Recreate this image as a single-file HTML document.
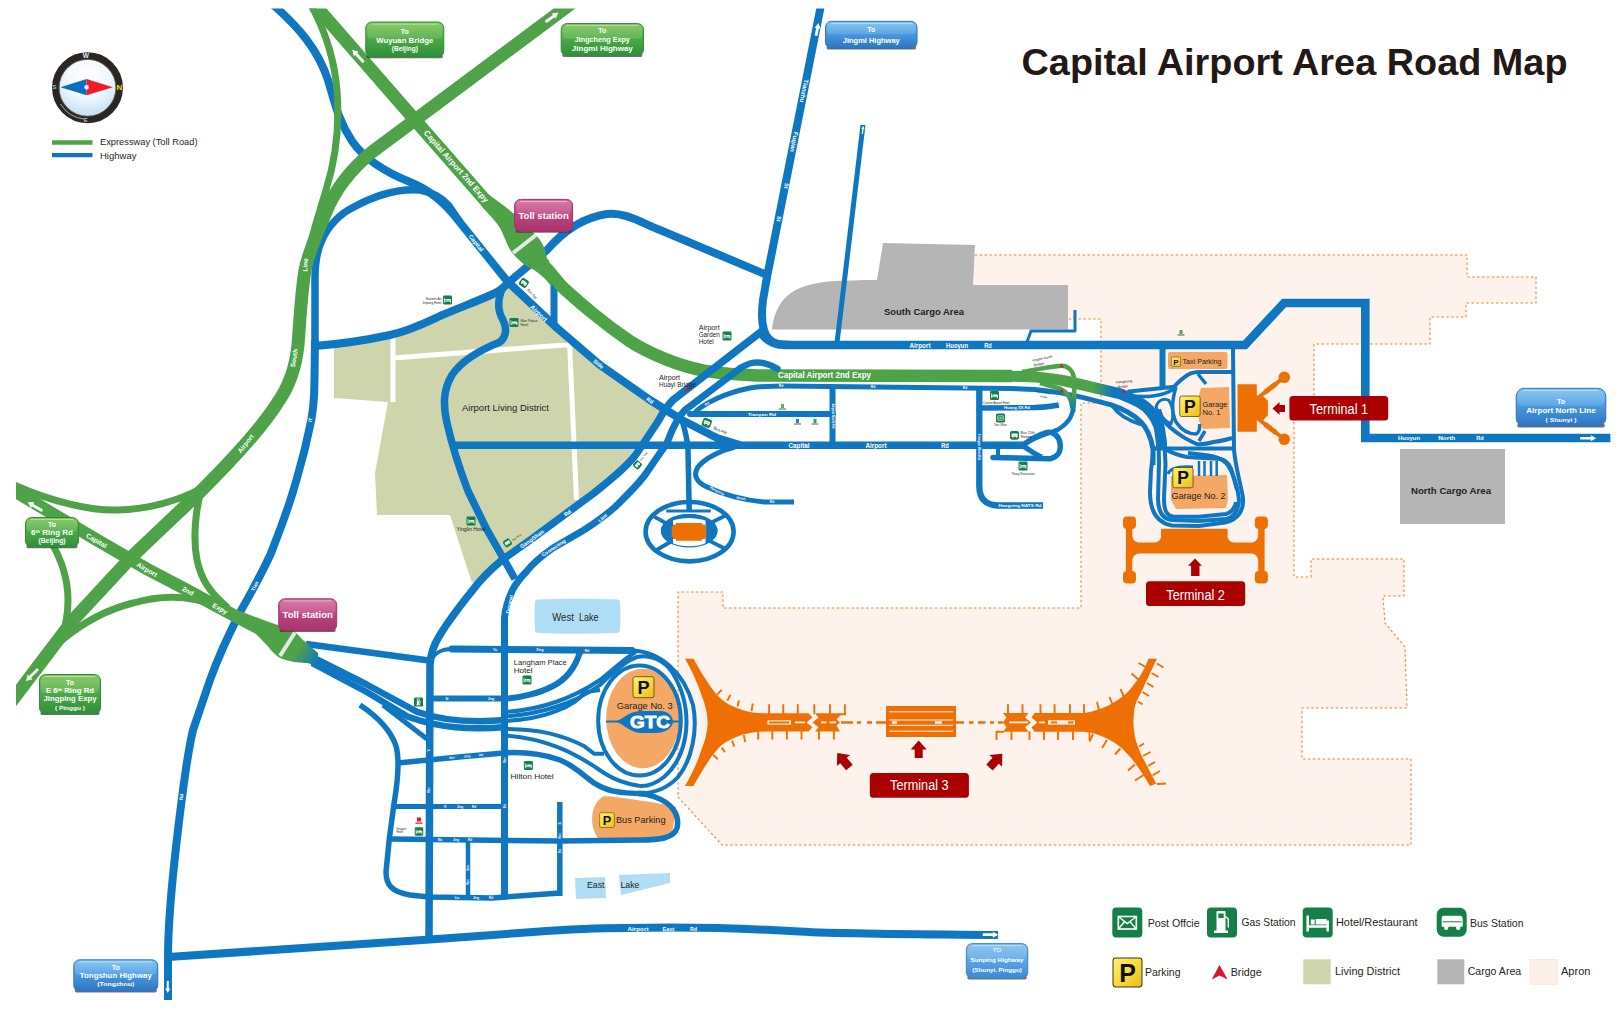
<!DOCTYPE html>
<html lang="en"><head><meta charset="utf-8"><title>Capital Airport Area Road Map</title>
<style>
html,body{margin:0;padding:0;background:#fff;}
body{width:1621px;height:1020px;overflow:hidden;font-family:"Liberation Sans",sans-serif;}
svg{display:block;}
svg text{font-family:"Liberation Sans",sans-serif;}
</style></head><body>
<svg width="1621" height="1020" viewBox="0 0 1621 1020">
<defs>
<linearGradient id="gbE" gradientUnits="userSpaceOnUse" x1="1093" y1="0" x2="1113" y2="0"><stop offset="0" stop-color="#4ea248"/><stop offset="1" stop-color="#0f76c1"/></linearGradient>
<linearGradient id="gbE2" gradientUnits="userSpaceOnUse" x1="0" y1="394" x2="0" y2="410"><stop offset="0" stop-color="#4ea248"/><stop offset="1" stop-color="#0f76c1"/></linearGradient>
<linearGradient id="gbW" gradientUnits="userSpaceOnUse" x1="298" y1="650" x2="320" y2="662"><stop offset="0" stop-color="#4ea248"/><stop offset="1" stop-color="#0f76c1"/></linearGradient>
<linearGradient id="sgG" x1="0" y1="0" x2="0" y2="1"><stop offset="0" stop-color="#7cc552"/><stop offset="0.5" stop-color="#4aa844"/><stop offset="1" stop-color="#2f8f3a"/></linearGradient>
<linearGradient id="sgB" x1="0" y1="0" x2="0" y2="1"><stop offset="0" stop-color="#78c2f0"/><stop offset="0.45" stop-color="#4a9ae0"/><stop offset="1" stop-color="#2f74c0"/></linearGradient>
<linearGradient id="sgB2" x1="0" y1="0" x2="0" y2="1"><stop offset="0" stop-color="#7fc0ee"/><stop offset="0.5" stop-color="#5aa4e2"/><stop offset="1" stop-color="#3d88d6"/></linearGradient>
<linearGradient id="sgP" x1="0" y1="0" x2="0" y2="1"><stop offset="0" stop-color="#d26c9d"/><stop offset="0.45" stop-color="#bc4580"/><stop offset="1" stop-color="#a8346c"/></linearGradient>
<linearGradient id="pk" x1="0" y1="0" x2="1" y2="1"><stop offset="0" stop-color="#fdf07a"/><stop offset="0.5" stop-color="#f7dc3a"/><stop offset="1" stop-color="#f0b81e"/></linearGradient>
<radialGradient id="cmp" cx="0.5" cy="0.32" r="0.62"><stop offset="0" stop-color="#ffffff"/><stop offset="0.55" stop-color="#f1f8fd"/><stop offset="1" stop-color="#c4e0f4"/></radialGradient>
</defs>
<clipPath id="mapclip"><rect x="16" y="8.5" width="1600" height="991.5"/></clipPath>
<rect width="1621" height="1020" fill="#fff"/>
<g clip-path="url(#mapclip)">
<g id="base"><path d="M965,255 L1467,255 L1467,277 L1536,277 L1536,303 L1466,303 L1466,317 L1430,317 L1430,344 L1314,344 L1314,408 L1294,408 L1294,577 L1311,577 L1311,559 L1404,559 L1404,596 L1383,596 L1385,623 L1405,647 L1407,708 L1302,708 L1302,759 L1411,759 L1411,845 L722,845 L678,797 L678,592 L723,592 L723,608 L1081,608 L1081,403 L1101,403 L1101,319 L965,319 L965,255 Z" fill="#fdf3ec" stroke="#ef8128" stroke-width="1.05" stroke-dasharray="2.4 2.5"/>
<path d="M334,343 L334,398 L388,402 L375,473 L377,515 L450,515 L472,583 L502,560 L533,538 L594,493 L628,466 L645,446 L657,423 L665,410 L600,365 L557,328 L508,284 L493,294 L466,305 L440,316 L390,335 Z" fill="#ced4ab"/>
<path d="M393,336 L393,402 M393,358 L571,344.5 M569.5,342 L576.5,500" stroke="#fff" stroke-width="5" fill="none"/>
<path d="M537,599.5 Q578,598 618,599.5 Q620,600 620,602 Q621,617 620,630 Q620,632.5 618,632.8 Q578,634.5 537,632.8 Q535,632.5 535,630 Q534,616 535,602 Q535,600 537,599.5 Z" fill="#b0ddf6"/>
<path d="M575,878 L605,877 L606,898 L576,899 Z" fill="#b0ddf6"/>
<path d="M619,875 L670,873 L670,883 L621,895 Z" fill="#b0ddf6"/>
<path d="M883,243 L975,245 L973,285 L1068,285 L1068,329.5 L772,329.5 C773,318 777,307 784,299 C793,289 808,283.5 828,281.5 C845,280.5 860,280 877,280 Z" fill="#b5b5b5"/>
<rect x="1400" y="449" width="105" height="75" fill="#b5b5b5"/>
<rect x="1168" y="352" width="59.5" height="17" rx="2" fill="#f5a866"/>
<path d="M1201,388 L1229,387 L1230,428 L1203,429 L1199,421 L1199,395 Z" fill="#f5a866"/>
<path d="M1171,476 L1227,475 L1228,500 L1226,508 L1176,509 L1171,500 Z" fill="#f5a866"/>
<ellipse cx="642.8" cy="718.5" rx="36.7" ry="49.7" fill="#f5a866"/>
<path d="M604,796 C625,798 655,802 676,807 L672,835 C650,838 620,839 599,839 C590,830 588,805 604,796 Z" fill="#f5a866"/></g>
<g id="blue1"><path d="M270,2 C300,28 318,50 328,80 C334,100 338,120 352,141 C365,160 385,172 410,182 C430,190 445,203 458,220 L507,281 L557,328 L600,365 L650,400 L682,420 L717,438 L740,445" stroke="#0f76c1" stroke-width="8" fill="none" stroke-linecap="butt" stroke-linejoin="round" />
<path d="M315,346 L315,278 C315,262 317,250 322,240 C328,226 340,214 352,208 C370,198 395,188 420,190 C432,192 441,197 449,206 L460,222" stroke="#0f76c1" stroke-width="7.5" fill="none" stroke-linecap="butt" stroke-linejoin="round" />
<path d="M315,340 L314.5,380 C314.5,400 313,415 309,430.5 C306,445 303,457 299.5,469 C296,482 292,496 287,510 C282,525 276,540 270.7,554 C265,566 260,576 254,587 C250,595 245,603 240.5,611.6 C232,628 220,652 210,680 L193,730 C186,760 182,797 178,830 C172,880 168,920 168,957 L168,1000" stroke="#0f76c1" stroke-width="8" fill="none" stroke-linecap="butt" stroke-linejoin="round" />
<path d="M315,346 C340,344 367,340 390,335 C410,330.5 425,323 440,316 C460,307.5 480,300 493,294 C500,291 504,287 508,283 L547,250 C560,235 580,218 607,214 C625,212 640,222 660,230 L767,275" stroke="#0f76c1" stroke-width="8" fill="none" stroke-linecap="butt" stroke-linejoin="round" />
<path d="M821,5 L767,277 L763,300 C761.5,312 761.5,322 764,330 C766,337 771,342 778,344.5 L792,345" stroke="#0f76c1" stroke-width="8" fill="none" stroke-linecap="butt" stroke-linejoin="round" />
<path d="M762,334 C768,342 775,345 790,345 L1245,345 L1284,303 L1365.3,303 L1365.3,438 L1610.4,438" stroke="#0f76c1" stroke-width="8.6" fill="none" stroke-linecap="butt" stroke-linejoin="miter" />
<path d="M863,125 L837,343" stroke="#0f76c1" stroke-width="5" fill="none" stroke-linecap="butt" stroke-linejoin="round" />
<path d="M554,283 L554,326" stroke="#0f76c1" stroke-width="7" fill="none" stroke-linecap="butt" stroke-linejoin="round" />
<path d="M503,287 C497,300 497,310 503,320 C508,330 505,338 500,342 C480,350 462,360 452,375 C443,390 443,405 447,423 C452,445 458,465 468,491 L486,528 L502,556 L515,579" stroke="#0f76c1" stroke-width="7.5" fill="none" stroke-linecap="butt" stroke-linejoin="round" />
<path d="M451,445.2 L1023,445.2" stroke="#0f76c1" stroke-width="7.6" fill="none" stroke-linecap="butt" stroke-linejoin="round" />
<path d="M695,412 C705,403 725,393 750,388 C765,386 775,386 783,386 L1010,388.6 L1034,389.4 C1045,390.5 1052,391.5 1059.8,392.6 L1082.3,397.4 L1110.5,404.7 C1122,408.5 1133,414 1141,422 C1147,428 1151,438 1153,449 L1153,465" stroke="#0f76c1" stroke-width="5" fill="none" stroke-linecap="butt" stroke-linejoin="round" />
<path d="M1112,405.5 C1117,413 1128,420.5 1141,424.5" stroke="#0f76c1" stroke-width="3.5" fill="none" stroke-linecap="butt" stroke-linejoin="round" />
<path d="M690,414 L833,414" stroke="#0f76c1" stroke-width="6" fill="none" stroke-linecap="round" stroke-linejoin="round" />
<path d="M832.5,387 L832.5,445" stroke="#0f76c1" stroke-width="6" fill="none" stroke-linecap="butt" stroke-linejoin="round" />
<path d="M682,420 C685,430 687.5,440 688,450 L689.2,510" stroke="#0f76c1" stroke-width="5.5" fill="none" stroke-linecap="butt" stroke-linejoin="round" />
<path d="M735,447 C722,450 705,458 698,467 C692,476 698,483 707,487 C722,494 740,500 765,502 L794,502" stroke="#0f76c1" stroke-width="5" fill="none" stroke-linecap="butt" stroke-linejoin="round" />
<path d="M979.3,388 L979.3,486 C979.3,499 986,505.5 998,505.5 L1043,505.5" stroke="#0f76c1" stroke-width="6.3" fill="none" stroke-linecap="butt" stroke-linejoin="round" />
<path d="M979.3,408 L1035,407.5 C1046,407 1053,406.3 1058.8,405" stroke="#0f76c1" stroke-width="5.5" fill="none" stroke-linecap="butt" stroke-linejoin="round" />
<path d="M1023,445 C1030,440 1038,435 1047,432.5 C1053,431 1059,436 1060,443 C1061,450 1060,456 1050,458.8 L993,457.5" stroke="#0f76c1" stroke-width="5.5" fill="none" stroke-linecap="round" stroke-linejoin="round" />
<path d="M1023,446 C1030,450 1035,455 1042,457" stroke="#0f76c1" stroke-width="5" fill="none" stroke-linecap="butt" stroke-linejoin="round" />
<path d="M998,445 L998,457" stroke="#0f76c1" stroke-width="4" fill="none" stroke-linecap="butt" stroke-linejoin="round" />
<path d="M1075,310 L1075,331 L1031,331 L1027,342" stroke="#0f76c1" stroke-width="3" fill="none" stroke-linecap="butt" stroke-linejoin="round" /></g>
<g id="green"><path d="M592,-12 L415,120 L372,152 C350,170 335,190 326,212 C316,235 308,255 305,270 C301,295 300,320 298,345 C296,365 290,385 278,402 C262,428 230,462 200,492 L132,556.5 L74,619 L33,673 L5,710" stroke="#4ea248" stroke-width="13" fill="none" stroke-linecap="butt" stroke-linejoin="round" />
<path d="M311,5 C322,25 334,55 337,90 C340,130 334,165 326,190 C320,210 312,235 307,258" stroke="#4ea248" stroke-width="7" fill="none" stroke-linecap="butt" stroke-linejoin="round" />
<path d="M300,-12 L318,8.6 L415,120 L492,208 L524,244 L545,266" stroke="#4ea248" stroke-width="13" fill="none" stroke-linecap="butt" stroke-linejoin="round" />
<path d="M540,262 L548,270 L561,285.6 C572,296 582,304.5 592.6,313.3 C605,323.5 617,332.5 629.6,341 C641,348.5 654,354.5 666.7,359.6 C679,364.5 691,368 703.7,370.7 C716,373 728,374 740.7,374.6 L757,375.5 L1012,376" stroke="#4ea248" stroke-width="12.5" fill="none" stroke-linecap="butt" stroke-linejoin="round" />
<path d="M488,194 C497,201 505,206 513.3,213.3 L535.8,235 C542,241 545.5,249 546.5,257 C548,263 552,268 557,273 L560,277 L551,286 L547,281 C543,276.5 538,272.5 533.3,269.5 C526,266.5 519,261 512.5,253.3 C508,247 506.5,242 504,236.7 C501,228 495,219 482,207 Z" fill="#4ea248"/>
<path d="M513,253 L536,235" stroke="#e1ebdf" stroke-width="4" fill="none" stroke-linecap="butt" stroke-linejoin="round" />
<path d="M5,486 L16,492 L97,540 L147,569 L188,590.5 L220,608 L262,630 L290,645" stroke="#4ea248" stroke-width="12.5" fill="none" stroke-linecap="butt" stroke-linejoin="round" />
<path d="M14,485 C50,501 90,511 117,510 C150,509 180,500 202,488" stroke="#4ea248" stroke-width="7" fill="none" stroke-linecap="butt" stroke-linejoin="round" />
<path d="M202,488 C195,510 193,540 197,560 C201,578 208,591 228,608" stroke="#4ea248" stroke-width="7" fill="none" stroke-linecap="butt" stroke-linejoin="round" />
<path d="M218,606 C190,595 160,595 133,603 C105,610 80,625 62,640" stroke="#4ea248" stroke-width="7" fill="none" stroke-linecap="butt" stroke-linejoin="round" />
<path d="M50,540 C62,560 68,580 68,600 C68,615 66,625 62,638" stroke="#4ea248" stroke-width="7" fill="none" stroke-linecap="butt" stroke-linejoin="round" /></g>
<g id="blue2"><path d="M762,331 L673,400 C665,408 660,418 657,423 L637,453 C628,466 610,480 594,493 L533,538 L502,560 C490,570 480,580 472,591 C462,603 452,617 447,624 C440,635 431,646 430,665 L429,940" stroke="#0f76c1" stroke-width="7.5" fill="none" stroke-linecap="butt" stroke-linejoin="round" />
<path d="M742,367 L685,410 C675,420 670,435 667,443 L647,472 C640,483 625,497 615,507 C605,516 595,523 584,530 L553,548 C543,555 533,563 527,571 C520,578 515,585 512,591 C508,600 505,610 504.5,618 L504.5,896" stroke="#0f76c1" stroke-width="7" fill="none" stroke-linecap="butt" stroke-linejoin="round" />
<path d="M734,373 L742,367 C748,363.5 752,362.3 757.5,362.3 C765,362.5 771,365 777.5,368.8" stroke="#0f76c1" stroke-width="6.3" fill="none" stroke-linecap="round" stroke-linejoin="round" />
<ellipse cx="689.6" cy="531.7" rx="44" ry="29.7" fill="none" stroke="#0f76c1" stroke-width="4.6"/>
<path d="M654.2,516.7 L669.5,525.2 M725,515.8 L709.5,523.5 M656.7,550 L671,541.5 M724.2,548.3 L709,540.6" stroke="#0f76c1" stroke-width="3.8" fill="none" stroke-linecap="butt" stroke-linejoin="round" />
<clipPath id="rbc"><ellipse cx="689.2" cy="530.8" rx="28.3" ry="16.7"/></clipPath>
<ellipse cx="689.2" cy="530.8" rx="27.7" ry="16.1" fill="#fff" stroke="#0f76c1" stroke-width="1.2"/>
<g clip-path="url(#rbc)"><rect x="655" y="510" width="18" height="42" fill="#0f76c1"/><rect x="705.5" y="510" width="18" height="42" fill="#0f76c1"/><path d="M660,523 Q689,508 718,523" stroke="#0f76c1" stroke-width="5" fill="none"/></g>
<path d="M666.3,511 L710.8,511" stroke="#0f76c1" stroke-width="3" fill="none" stroke-linecap="butt" stroke-linejoin="round" />
<path d="M676,523 L702,523 L702,524.5 L705,524.5 L705,526.5 L706.3,526.5 L706.3,537 L705,537 L705,539 L702,539 L702,540.8 L676,540.8 L676,539 L673,539 L673,537 L671.7,537 L671.7,526.5 L673,526.5 L673,524.5 L676,524.5 Z" fill="#ee7004"/>
<path d="M306,644 L429,660.5" stroke="#0f76c1" stroke-width="6.5" fill="none" stroke-linecap="butt" stroke-linejoin="round" />
<path d="M316,659 L366.7,684.5 L416.7,711.7 C440,720 470,723 506,720" stroke="#0f76c1" stroke-width="6.5" fill="none" stroke-linecap="butt" stroke-linejoin="round" />
<path d="M312,663 L366.7,692 L408,716.7 C440,728 470,730 506,727" stroke="#0f76c1" stroke-width="6.5" fill="none" stroke-linecap="butt" stroke-linejoin="round" />
<path d="M383,705 L427,739" stroke="#0f76c1" stroke-width="5" fill="none" stroke-linecap="butt" stroke-linejoin="round" />
<path d="M360,705 C375,715 390,728 396,746 C400,760 398,780 394,804 C390,830 387,860 386,872 C386,885 392,892 410,895 L429,897 L492,898 L560,893" stroke="#0f76c1" stroke-width="5.5" fill="none" stroke-linecap="butt" stroke-linejoin="round" />
<path d="M431,662 C433,653 442,649 452,649 L633,650.5 C660,652 684,672 693,705 C698,730 692,760 678,777 C668,788 655,793 640,793.5" stroke="#0f76c1" stroke-width="4" fill="none" stroke-linecap="butt" stroke-linejoin="round" />
<path d="M452,649 L632,650.5" stroke="#0f76c1" stroke-width="7" fill="none" stroke-linecap="round" stroke-linejoin="round" />
<path d="M580,652 C575,668 565,680 553,686 C540,693 520,698 506,698.6 L431,698.6" stroke="#0f76c1" stroke-width="6" fill="none" stroke-linecap="butt" stroke-linejoin="round" />
<path d="M392,806.5 L504.7,806.5" stroke="#0f76c1" stroke-width="5" fill="none" stroke-linecap="butt" stroke-linejoin="round" />
<path d="M391,839 L560,841 L640,840 C660,840 674,838 677,828 C680,815 672,803 655,797 C650,795 645,793.5 638,793.5" stroke="#0f76c1" stroke-width="5.5" fill="none" stroke-linecap="butt" stroke-linejoin="round" />
<path d="M559.8,802 L559.8,896" stroke="#0f76c1" stroke-width="5.5" fill="none" stroke-linecap="butt" stroke-linejoin="round" />
<path d="M468,840 L468,898" stroke="#0f76c1" stroke-width="4.5" fill="none" stroke-linecap="butt" stroke-linejoin="round" />
<path d="M504,712 C540,710 570,700 600,680 C615,668 625,658 636,652" stroke="#0f76c1" stroke-width="4" fill="none" stroke-linecap="butt" stroke-linejoin="round" />
<path d="M504,716.5 C540,714.5 575,703 600,685 C612,673 625,661 637,657 C650,654 664,660 672,672 C682,688 686.5,705 686.5,722 C686.5,745 678,765 664,777 C655,784 648,786.5 640,786" stroke="#0f76c1" stroke-width="4" fill="none" stroke-linecap="butt" stroke-linejoin="round" />
<path d="M504,721 C545,719.5 575,706 585,692 L600,690" stroke="#0f76c1" stroke-width="4" fill="none" stroke-linecap="butt" stroke-linejoin="round" />
<path d="M504,729 C540,729 562,735 584,746 L594,753.7 L604,753.7" stroke="#0f76c1" stroke-width="4" fill="none" stroke-linecap="butt" stroke-linejoin="round" />
<path d="M504,735.5 C543,738 573,751 604,773 C615,780 625,784 640,786" stroke="#0f76c1" stroke-width="4" fill="none" stroke-linecap="butt" stroke-linejoin="round" />
<path d="M398,763 L461.6,756.7 L506.5,752.7 C525,752 543,754 560,760 C575,766 585,777 594,783 C605,790 615,793.5 645,793.5" stroke="#0f76c1" stroke-width="5.5" fill="none" stroke-linecap="butt" stroke-linejoin="round" />
<ellipse cx="639.5" cy="720.5" rx="41.3" ry="55" fill="none" stroke="#0f76c1" stroke-width="4"/>
<path d="M606,721.5 L680,721.5" stroke="#0f76c1" stroke-width="2" fill="none" stroke-linecap="butt" stroke-linejoin="round" />
<path d="M614,721.5 C622,721 626,712 640,711 L660,711 C670,711 673,718 673,721.5 C673,726 668,733 655,733 L640,733 C628,732 622,722 614,721.5 Z" fill="#0f76c1"/>
<path d="M168,957 L430,939.5 L533,932 C560,930 600,928 625,928 C680,927 740,928 790,931 C830,934 900,934 998,935" stroke="#0f76c1" stroke-width="8" fill="none" stroke-linecap="butt" stroke-linejoin="round" />
<path d="M1005,376 L1030,376.8 C1040,377 1050,378.5 1060,380 C1070,382 1083,385 1095,387.8 L1119.6,393.6 C1127,397 1133,399 1139.4,402.5 C1144,405 1148,408 1151.2,412.4 C1155,417 1157,421 1159,426 C1160,432 1161,438 1161.5,444 L1161.5,450" stroke="url(#gbE)" stroke-width="11" fill="none" stroke-linecap="butt" stroke-linejoin="round" />
<path d="M1162.5,348 L1162.5,388" stroke="#0f76c1" stroke-width="6" fill="none" stroke-linecap="butt" stroke-linejoin="round" />
<path d="M1233,348 L1234,450 C1236,470 1241,485 1243,498 C1244,510 1238,520 1225,522.5 L1199,526 L1172,525.5 C1158,523 1150,512 1150,492 L1151,470 L1153,455" stroke="#0f76c1" stroke-width="4" fill="none" stroke-linecap="butt" stroke-linejoin="round" />
<path d="M1158.5,440 L1159,464 L1158,498 C1158,510 1162,519 1172,520 L1199,521 L1226,519 C1235,517 1239,508 1239,500 C1238,488 1233,472 1227,464 C1222,458 1215,456 1205,455 L1188,453" stroke="#0f76c1" stroke-width="4" fill="none" stroke-linecap="butt" stroke-linejoin="round" />
<path d="M1164,436 L1165.5,464 L1164,498 C1164,510 1166,516 1174,516.7 L1199,516.7 L1226,514 C1231,513 1235,508 1236,502" stroke="#0f76c1" stroke-width="4" fill="none" stroke-linecap="butt" stroke-linejoin="round" />
<path d="M1154,448.5 L1234,448.5" stroke="#0f76c1" stroke-width="4" fill="none" stroke-linecap="butt" stroke-linejoin="round" />
<path d="M1165,449 C1172,453 1178,455.5 1187,457 L1221,459 C1228,461 1231,466 1233,475 L1237,490" stroke="#0f76c1" stroke-width="4" fill="none" stroke-linecap="butt" stroke-linejoin="round" />
<path d="M1199,461 L1199,476 M1204.5,461 L1204.5,476 M1211,461 L1211,476 M1216.7,461 L1216.7,476" stroke="#0f76c1" stroke-width="2.5" fill="none" stroke-linecap="butt" stroke-linejoin="round" />
<path d="M1168,474 C1170,468 1178,466 1193,467" stroke="#0f76c1" stroke-width="3" fill="none" stroke-linecap="butt" stroke-linejoin="round" />
<path d="M1127.5,391.7 C1140,390 1160,388.5 1174,386.7 C1178,383 1180,380 1183.8,377.8 C1188,374 1193,372 1198.6,372 L1232,372" stroke="#0f76c1" stroke-width="4" fill="none" stroke-linecap="butt" stroke-linejoin="round" />
<path d="M1232,438 C1226,440 1220,441 1213.4,442 C1207,444 1202,444.5 1196.6,444 C1190,441 1184,438 1178.8,434 C1173,430 1168,426 1165,422 C1162,418 1160,414 1159,409.4" stroke="#0f76c1" stroke-width="4" fill="none" stroke-linecap="butt" stroke-linejoin="round" />
<path d="M1127.5,394.6 C1140,398 1158,397 1169,391.7 C1172,390 1174,389 1176,387.5" stroke="#0f76c1" stroke-width="3.5" fill="none" stroke-linecap="butt" stroke-linejoin="round" />
<path d="M1176,387 C1172,400 1171,412 1176,422 C1182,431 1190,434 1196,434 C1200,432 1200,428 1199.6,424" stroke="#0f76c1" stroke-width="3.5" fill="none" stroke-linecap="butt" stroke-linejoin="round" />
<path d="M1156,407 C1158,400 1164,397.5 1169,400.5 C1173,407 1174,416 1171,424 C1165,421 1159,415 1156,407 Z" stroke="#0f76c1" stroke-width="3" fill="none" stroke-linecap="butt" stroke-linejoin="round" />
<path d="M1198,374 L1206,384 M1205,431 L1199,441" stroke="#0f76c1" stroke-width="3.5" fill="none" stroke-linecap="butt" stroke-linejoin="round" /></g>
<g id="green2"><path d="M238,610.5 C245,613 250,615 257,617.5 C265,620.5 272,623 278,625 C286,627.5 292,629.5 295,631.7 L303,640 L318,653 L318,668 C313,665 310,663.5 306.7,663 C300,662.5 297,662.5 293,661.7 C287,660.5 282,659.5 278,656.7 C273,653 270,649 266.7,645 C262,640 258,636 255,633 C248,628.5 240,625 230,620.3 Z" fill="url(#gbW)"/>
<path d="M280,655.8 L295,632.5" stroke="#e1ebdf" stroke-width="4" fill="none" stroke-linecap="butt" stroke-linejoin="round" />
<path d="M1022,372 C1036,369.5 1046,367.3 1061.4,365.7 C1067,365.5 1074.3,370 1074.3,382 L1074,400 C1074,414 1070,422 1058,429.6 C1050,433 1038,436 1027,442.5" stroke="url(#gbE2)" stroke-width="4.5" fill="none" stroke-linecap="butt" stroke-linejoin="round" />
<path d="M1040,383 C1048,385 1056,387.5 1059.8,388.6 C1063,390 1065,392 1066.3,393.4 C1069,396 1070.5,399 1071,401.4 L1073.5,412" stroke="url(#gbE2)" stroke-width="4.5" fill="none" stroke-linecap="butt" stroke-linejoin="round" /></g>
<g id="terminals"><g id="t3w"><path d="M685,658.8 L693.5,658.8 C699,669 705,679 710.8,687 C714,692 718,696 721.8,699.6 C727,704 732,706 737.5,708.2 C744,711 751,712.5 757.8,713 L767.3,713.3 L808.5,713.3 L812.5,717.5 L806.5,722.4 L812.5,727.3 L808.5,731.5 L767.3,731.5 L757.8,731.8 C751,732.5 744,734 737.5,736.5 C732,739 727,741 721.8,745 C718,748.5 714,753 710.8,757.6 C705,766 699,776 693.5,785.9 L685,785.9 C692,774 698,761 701.4,749.8 C705,741 707.6,731 707.6,722.4 C707.6,713 705,704 701.4,695 C698,684 692,671 685,658.8 Z" fill="#ee7004"/>
<path d="M815,713.3 L846,713.3 L846,715.2 L840.5,715.2 L836.5,719.5 L840,722.4 L836.5,725.5 L840,731.5 L815,731.5 L818.5,727.3 L812.5,722.4 L818.5,717.5 Z" fill="#ee7004"/>
<rect x="767.5" y="720.3" width="23.5" height="4.3" fill="#fdf3ec"/><rect x="768.8" y="721.4" width="20.5" height="2.1" fill="#ee7004"/>
<path d="M795,722.4 L805,722.4 M821,722.4 L826.5,722.4 M829.5,722.4 L836,722.4" stroke="#fdf3ec" stroke-width="1.8"/>
<path d="M769.1,704.3 L769.1,714 M783.3,704.3 L783.3,714 M797.8,704.3 L797.8,714 M814.3,704.3 L814.3,714 M830,704.3 L830,714 M844.9,704.3 L844.9,714 M758.2,731 L758.2,739.6 M772.3,731 L772.3,739.6 M786.9,731 L786.9,739.6 M801.5,731 L801.5,739.6 M819,731 L819,739.6 M833.9,731 L833.9,739.6 M717,694.5 L721.8,689.9 M727.3,700.8 L730.4,694.9 M737.5,706.5 L739,700.4 M751.6,711 L752.7,703.5 M713.1,754.8 L717.8,759.2 M721.8,747.6 L724.9,752.2 M732,740.6 L734.3,746.7 M743.7,735 L745.3,742" stroke="#ee7004" stroke-width="1.9" fill="none"/></g>
<g id="t3e"><path d="M1148.4,658.8 L1157,658.8 C1152,669 1147,680 1143.7,687 C1140,695 1137,700 1135,705.9 C1134,711 1133.5,717 1133.5,722.4 C1133.5,728 1134.5,735 1135.9,740.4 C1138,748 1141,755 1145.3,762.4 C1149,770 1153,777 1156.3,783.5 L1150,785.9 C1146,780 1143,774 1139,768.6 C1135,763 1131,757 1126.5,752.9 C1121,747 1114,742 1107.6,738.8 C1100,735 1092,732.5 1084,731.8 L1034.5,731.8 L1031.5,727.3 L1037.5,722.4 L1031.5,717.5 L1034.5,713 L1084,713 C1092,712 1100,709 1107.6,705.9 C1114,703 1121,698 1126.5,693.3 C1131,689 1135,683 1139,677.6 C1143,672 1146,665 1148.4,658.8 Z" fill="#ee7004"/>
<path d="M1028.5,713 L1003,713 L1006.5,717.5 L1003,722.4 L1006.5,727.3 L1003,731.8 L1028.5,731.8 L1025,727.3 L1031,722.4 L1025,717.5 Z" fill="#ee7004"/>
<path d="M996,731.8 L1004,731.8" stroke="#ee7004" stroke-width="1.9"/>
<rect x="1048" y="720.3" width="27" height="4.3" fill="#fdf3ec"/><rect x="1051" y="721.4" width="6" height="2.1" fill="#ee7004"/><rect x="1068" y="721.4" width="5.5" height="2.1" fill="#ee7004"/>
<path d="M1009,722.4 L1028,722.4 M1039,722.4 L1045,722.4" stroke="#fdf3ec" stroke-width="1.8"/>
<path d="M1008,704.3 L1008,713.5 M1022.5,704.3 L1022.5,713.5 M1040.5,704.3 L1040.5,713.5 M1054.6,704.3 L1054.6,713.5 M1070,704.3 L1070,713.5 M1084,704.3 L1084,713.5 M996.5,731.3 L996.5,740 M1011.5,731.3 L1011.5,740 M1029.5,731.3 L1029.5,740 M1044,731.3 L1044,740 M1058,731.3 L1058,740 M1073,731.3 L1073,740 M1089.5,731.3 L1089.5,740 M1099,710 L1097,702 M1112.5,704.5 L1109.5,697 M1124,697 L1120.5,689 M1139,680 L1131.5,673.5 M1147.5,668 L1138.5,663 M1157,663.5 L1163.5,667.5 M1151.5,673 L1158.5,677 M1147,683 L1153.5,687 M1142.5,692 L1149,696 M1138,701.5 L1142.5,704.5 M1093,734 L1089.5,741.5 M1107,740 L1102,748 M1120.5,748.5 L1115,754.5 M1135,764.5 L1128,770.5 M1143.5,775 L1135,780.5 M1139,746.5 L1144,743.5 M1143,756 L1150.5,752 M1148,766 L1155,762 M1152.5,775.5 L1160,771 M1157,784 L1166,783.5" stroke="#ee7004" stroke-width="1.9" fill="none"/></g>
<rect x="886" y="706" width="70" height="31" fill="#ee7004"/>
<path d="M889,711.8 L953,711.8 M889,731.2 L953,731.2 M889,720 L953,720 M889,725.3 L953,725.3" stroke="#fdf3ec" stroke-width="1"/>
<path d="M892,722.6 L897,722.6 M935,722.6 L942,722.6" stroke="#fdf3ec" stroke-width="2.5"/>
<path d="M841,722.5 L853,722.5 M857,722.5 L861,722.5 M867,722.5 L872,722.5 M876,722.5 L886,722.5 M956,722.5 L964,722.5 M969,722.5 L973.5,722.5 M978,722.5 L985.5,722.5 M990,722.5 L994,722.5 M998,722.5 L1003,722.5" stroke="#ee7004" stroke-width="2.6"/>
<g transform="translate(918.7,749.6) rotate(0) scale(1)"><path d="M0,-9 L8,0 L4,0 L4,8.5 L-4,8.5 L-4,0 L-8,0 Z" fill="#aa0000"/></g>
<g transform="translate(843.5,760.5) rotate(-40) scale(1.08)"><path d="M0,-9 L8,0 L4,0 L4,8.5 L-4,8.5 L-4,0 L-8,0 Z" fill="#aa0000"/></g>
<g transform="translate(995.7,760.8) rotate(43) scale(1.08)"><path d="M0,-9 L8,0 L4,0 L4,8.5 L-4,8.5 L-4,0 L-8,0 Z" fill="#aa0000"/></g>
<path d="M1237.5,384.2 L1256.8,384.2 L1256.8,395.4 L1263.3,396.3 L1267.9,400.8 L1267.9,415.2 L1263.3,420 L1256.8,420.8 L1256.8,431.7 L1237.5,431.7 Z" fill="#ee7004"/>
<path d="M1259,397 L1284,377.5 M1259,419.5 L1284,439" stroke="#ee7004" stroke-width="4" fill="none"/><path d="M1265,392.3 L1276,383.8 M1265,424.2 L1276,432.8" stroke="#ee7004" stroke-width="5" fill="none"/>
<circle cx="1284.3" cy="377.3" r="5.8" fill="#ee7004"/><circle cx="1284.3" cy="439.3" r="5.8" fill="#ee7004"/>
<path d="M1272.5,408.5 L1279.5,402 L1279.5,405 L1285,405 L1285,412 L1279.5,412 L1279.5,415 Z" fill="#aa0000"/>
<path d="M1161,528.8 L1227.6,528.8 L1227.6,537.5 C1228.5,540.5 1231,542.6 1235,542.6 L1251,542.6 C1255,542.6 1258.2,539.5 1258.2,535 L1258.2,524 L1264.6,524 L1264.6,576 L1258.2,576 L1258.2,561 C1258.2,556.5 1255,553.4 1251,553.4 L1139.5,553.4 C1135.5,553.4 1132.3,556.5 1132.3,561 L1132.3,576 L1125.9,576 L1125.9,524 L1132.3,524 L1132.3,535 C1132.3,539.5 1135.5,542.6 1139.5,542.6 L1153.5,542.6 C1157.5,542.6 1160,540.5 1161,537.5 Z" fill="#ee7004"/>
<rect x="1123" y="516.4" width="13" height="12.6" rx="4" fill="#ee7004"/>
<rect x="1123" y="570.9" width="13" height="12.6" rx="4" fill="#ee7004"/>
<rect x="1254.9" y="516.4" width="13" height="12.6" rx="4" fill="#ee7004"/>
<rect x="1254.9" y="570.9" width="13" height="12.6" rx="4" fill="#ee7004"/>
<path d="M1195,558.4 L1201.9,565.8 L1199.5,565.8 L1199.5,576.1 L1191.1,576.1 L1191.1,565.8 L1188.1,565.8 Z" fill="#aa0000"/></g>
</g>
<g id="roadlabels"><text x="456" y="166.5" font-size="8.2" fill="#fff" font-weight="bold" text-anchor="middle" transform="rotate(48.5 456 166.5)" textLength="93" lengthAdjust="spacingAndGlyphs" dominant-baseline="central">Capital Airport 2nd Expy</text>
<text x="824.5" y="375.3" font-size="9" fill="#fff" font-weight="bold" text-anchor="middle" textLength="93" lengthAdjust="spacingAndGlyphs" dominant-baseline="central">Capital Airport 2nd Expy</text>
<text x="920" y="345.6" font-size="6.3" fill="#fff" font-weight="bold" text-anchor="middle" textLength="21" lengthAdjust="spacingAndGlyphs" dominant-baseline="central">Airport</text>
<text x="957" y="345.6" font-size="6.3" fill="#fff" font-weight="bold" text-anchor="middle" textLength="22" lengthAdjust="spacingAndGlyphs" dominant-baseline="central">Huoyun</text>
<text x="988" y="345.6" font-size="6.3" fill="#fff" font-weight="bold" text-anchor="middle" textLength="7.5" lengthAdjust="spacingAndGlyphs" dominant-baseline="central">Rd</text>
<text x="799" y="445.2" font-size="6.3" fill="#fff" font-weight="bold" text-anchor="middle" textLength="21" lengthAdjust="spacingAndGlyphs" dominant-baseline="central">Capital</text>
<text x="876" y="445.2" font-size="6.3" fill="#fff" font-weight="bold" text-anchor="middle" textLength="21" lengthAdjust="spacingAndGlyphs" dominant-baseline="central">Airport</text>
<text x="945" y="445.2" font-size="6.3" fill="#fff" font-weight="bold" text-anchor="middle" textLength="7.5" lengthAdjust="spacingAndGlyphs" dominant-baseline="central">Rd</text>
<text x="1409" y="438.2" font-size="6" fill="#fff" font-weight="bold" text-anchor="middle" textLength="22" lengthAdjust="spacingAndGlyphs" dominant-baseline="central">Huoyun</text>
<text x="1446.7" y="438.2" font-size="6" fill="#fff" font-weight="bold" text-anchor="middle" textLength="17" lengthAdjust="spacingAndGlyphs" dominant-baseline="central">North</text>
<text x="1480" y="438.2" font-size="6" fill="#fff" font-weight="bold" text-anchor="middle" textLength="7.5" lengthAdjust="spacingAndGlyphs" dominant-baseline="central">Rd</text>
<text x="638" y="929.3" font-size="6" fill="#fff" font-weight="bold" text-anchor="middle" textLength="21" lengthAdjust="spacingAndGlyphs" dominant-baseline="central">Airport</text>
<text x="668.5" y="929.3" font-size="6" fill="#fff" font-weight="bold" text-anchor="middle" textLength="12" lengthAdjust="spacingAndGlyphs" dominant-baseline="central">East</text>
<text x="693.5" y="929.3" font-size="6" fill="#fff" font-weight="bold" text-anchor="middle" textLength="7" lengthAdjust="spacingAndGlyphs" dominant-baseline="central">Rd</text>
<text x="305" y="265" font-size="6.5" fill="#fff" font-weight="bold" text-anchor="middle" transform="rotate(-87 305 265)" dominant-baseline="central">Line</text>
<text x="294" y="358" font-size="6.5" fill="#fff" font-weight="bold" text-anchor="middle" transform="rotate(-80 294 358)" dominant-baseline="central">South</text>
<text x="245.5" y="443.5" font-size="6.5" fill="#fff" font-weight="bold" text-anchor="middle" transform="rotate(-52 245.5 443.5)" dominant-baseline="central">Airport</text>
<text x="96.5" y="540.5" font-size="6.8" fill="#fff" font-weight="bold" text-anchor="middle" transform="rotate(30 96.5 540.5)" dominant-baseline="central">Capital</text>
<text x="147" y="569.5" font-size="6.8" fill="#fff" font-weight="bold" text-anchor="middle" transform="rotate(30 147 569.5)" dominant-baseline="central">Airport</text>
<text x="188" y="591" font-size="6.8" fill="#fff" font-weight="bold" text-anchor="middle" transform="rotate(29 188 591)" dominant-baseline="central">2nd</text>
<text x="220" y="608.5" font-size="6.8" fill="#fff" font-weight="bold" text-anchor="middle" transform="rotate(29 220 608.5)" dominant-baseline="central">Expy</text>
<text x="476" y="243" font-size="6" fill="#fff" font-weight="bold" text-anchor="middle" transform="rotate(51 476 243)" dominant-baseline="central">Capital</text>
<text x="539" y="313" font-size="6.3" fill="#fff" font-weight="bold" text-anchor="middle" transform="rotate(44 539 313)" dominant-baseline="central">Airport</text>
<text x="598.5" y="364" font-size="5.6" fill="#fff" font-weight="bold" text-anchor="middle" transform="rotate(40 598.5 364)" dominant-baseline="central">Side</text>
<text x="650" y="400.5" font-size="5.6" fill="#fff" font-weight="bold" text-anchor="middle" transform="rotate(35 650 400.5)" dominant-baseline="central">Rd</text>
<text x="804.5" y="91" font-size="6.2" fill="#fff" font-weight="bold" text-anchor="middle" transform="rotate(101 804.5 91)" dominant-baseline="central">Tianzhu</text>
<text x="794.5" y="142" font-size="6.2" fill="#fff" font-weight="bold" text-anchor="middle" transform="rotate(101 794.5 142)" dominant-baseline="central">Fuqian</text>
<text x="786.5" y="186" font-size="5.6" fill="#fff" font-weight="bold" text-anchor="middle" transform="rotate(101 786.5 186)" dominant-baseline="central">St</text>
<text x="779" y="219" font-size="5.6" fill="#fff" font-weight="bold" text-anchor="middle" transform="rotate(101 779 219)" dominant-baseline="central">St</text>
<text x="532" y="539" font-size="5.6" fill="#fff" font-weight="bold" text-anchor="middle" transform="rotate(-36 532 539)" dominant-baseline="central">GangShan</text>
<text x="567.5" y="513" font-size="5.6" fill="#fff" font-weight="bold" text-anchor="middle" transform="rotate(-37 567.5 513)" dominant-baseline="central">Rd</text>
<text x="553.5" y="547.7" font-size="5" fill="#fff" font-weight="bold" text-anchor="middle" transform="rotate(-33 553.5 547.7)" dominant-baseline="central">Connecting</text>
<text x="602.5" y="517.7" font-size="5" fill="#fff" font-weight="bold" text-anchor="middle" transform="rotate(-42 602.5 517.7)" dominant-baseline="central">Line</text>
<text x="509.5" y="604.5" font-size="4.6" fill="#fff" font-weight="bold" text-anchor="middle" transform="rotate(-78 509.5 604.5)" dominant-baseline="central">Terminal</text>
<text x="310.5" y="420" font-size="4.8" fill="#fff" font-weight="bold" text-anchor="middle" transform="rotate(-80 310.5 420)" dominant-baseline="central">IT</text>
<text x="254.5" y="586" font-size="5" fill="#fff" font-weight="bold" text-anchor="middle" transform="rotate(-63 254.5 586)" dominant-baseline="central">Tian</text>
<text x="181.5" y="797" font-size="4.8" fill="#fff" font-weight="bold" text-anchor="middle" transform="rotate(-83 181.5 797)" dominant-baseline="central">Rd</text>
<text x="762" y="414.2" font-size="4.2" fill="#fff" font-weight="bold" text-anchor="middle" textLength="28" lengthAdjust="spacingAndGlyphs" dominant-baseline="central">Tianyan Rd</text>
<text x="832.5" y="416" font-size="3.2" fill="#fff" font-weight="bold" text-anchor="middle" transform="rotate(90 832.5 416)" dominant-baseline="central">Airport North Rd</text>
<text x="1017" y="407.7" font-size="4.2" fill="#fff" font-weight="bold" text-anchor="middle" textLength="26" lengthAdjust="spacingAndGlyphs" dominant-baseline="central">Huang XX Rd</text>
<text x="1020" y="505.7" font-size="3.6" fill="#fff" font-weight="bold" text-anchor="middle" textLength="43" lengthAdjust="spacingAndGlyphs" dominant-baseline="central">Hangxing NATS Rd</text>
<text x="979.3" y="447" font-size="3.2" fill="#fff" font-weight="bold" text-anchor="middle" transform="rotate(90 979.3 447)" dominant-baseline="central">Hangan West Rd</text>
<text x="717" y="491" font-size="3.4" fill="#fff" font-weight="bold" text-anchor="middle" transform="rotate(28 717 491)" dominant-baseline="central">Hangxing</text>
<text x="741" y="498.5" font-size="3.4" fill="#fff" font-weight="bold" text-anchor="middle" transform="rotate(10 741 498.5)" dominant-baseline="central">North</text>
<text x="772" y="502" font-size="3.4" fill="#fff" font-weight="bold" text-anchor="middle" dominant-baseline="central">Rd</text>
<text x="707" y="404" font-size="3.4" fill="#fff" font-weight="bold" text-anchor="middle" transform="rotate(-30 707 404)" dominant-baseline="central">Rd</text>
<text x="781" y="386.2" font-size="3.4" fill="#fff" font-weight="bold" text-anchor="middle" dominant-baseline="central">Rd</text>
<text x="873" y="386.9" font-size="3.4" fill="#fff" font-weight="bold" text-anchor="middle" dominant-baseline="central">Rd</text>
<text x="965" y="387.7" font-size="3.4" fill="#fff" font-weight="bold" text-anchor="middle" dominant-baseline="central">Rd</text>
<text x="540" y="650.2" font-size="3.4" fill="#fff" font-weight="bold" text-anchor="middle" dominant-baseline="central">Xing</text>
<text x="587" y="650.5" font-size="3.4" fill="#fff" font-weight="bold" text-anchor="middle" dominant-baseline="central">Rd</text>
<text x="495" y="650" font-size="3.4" fill="#fff" font-weight="bold" text-anchor="middle" dominant-baseline="central">Yu</text>
<text x="447" y="698.6" font-size="3.2" fill="#fff" font-weight="bold" text-anchor="middle" dominant-baseline="central">Si</text>
<text x="491" y="698.6" font-size="3.2" fill="#fff" font-weight="bold" text-anchor="middle" dominant-baseline="central">Jing</text>
<text x="452" y="757.7" font-size="3.2" fill="#fff" font-weight="bold" text-anchor="middle" transform="rotate(-5 452 757.7)" dominant-baseline="central">Wei</text>
<text x="467" y="756.3" font-size="3.2" fill="#fff" font-weight="bold" text-anchor="middle" transform="rotate(-5 467 756.3)" dominant-baseline="central">Jing</text>
<text x="481" y="755" font-size="3.2" fill="#fff" font-weight="bold" text-anchor="middle" transform="rotate(-5 481 755)" dominant-baseline="central">Rd</text>
<text x="445" y="806.5" font-size="3" fill="#fff" font-weight="bold" text-anchor="middle" dominant-baseline="central">Yi</text>
<text x="460" y="806.5" font-size="3" fill="#fff" font-weight="bold" text-anchor="middle" dominant-baseline="central">Jing</text>
<text x="474" y="806.5" font-size="3" fill="#fff" font-weight="bold" text-anchor="middle" dominant-baseline="central">Rd</text>
<text x="440" y="840" font-size="3" fill="#fff" font-weight="bold" text-anchor="middle" dominant-baseline="central">Wu</text>
<text x="456" y="840.2" font-size="3" fill="#fff" font-weight="bold" text-anchor="middle" dominant-baseline="central">Jing</text>
<text x="470" y="840.3" font-size="3" fill="#fff" font-weight="bold" text-anchor="middle" dominant-baseline="central">Rd</text>
<text x="457" y="897.5" font-size="3" fill="#fff" font-weight="bold" text-anchor="middle" dominant-baseline="central">Liu</text>
<text x="476" y="898" font-size="3" fill="#fff" font-weight="bold" text-anchor="middle" dominant-baseline="central">Jing</text>
<text x="491" y="898" font-size="3" fill="#fff" font-weight="bold" text-anchor="middle" dominant-baseline="central">Rd</text>
<text x="429.3" y="750" font-size="3" fill="#fff" font-weight="bold" text-anchor="middle" transform="rotate(-90 429.3 750)" dominant-baseline="central">Yi</text>
<text x="429.2" y="790" font-size="3" fill="#fff" font-weight="bold" text-anchor="middle" transform="rotate(-90 429.2 790)" dominant-baseline="central">Wei</text>
<text x="504.5" y="760" font-size="3" fill="#fff" font-weight="bold" text-anchor="middle" transform="rotate(-90 504.5 760)" dominant-baseline="central">Wei</text>
<text x="504.5" y="806" font-size="3" fill="#fff" font-weight="bold" text-anchor="middle" transform="rotate(-90 504.5 806)" dominant-baseline="central">Rd</text>
<text x="468" y="868" font-size="3" fill="#fff" font-weight="bold" text-anchor="middle" transform="rotate(-90 468 868)" dominant-baseline="central">San</text>
<text x="468" y="882" font-size="3" fill="#fff" font-weight="bold" text-anchor="middle" transform="rotate(-90 468 882)" dominant-baseline="central">Wei</text>
<text x="559.8" y="836" font-size="3" fill="#fff" font-weight="bold" text-anchor="middle" transform="rotate(-90 559.8 836)" dominant-baseline="central">Wei</text>
<text x="559.8" y="851" font-size="3" fill="#fff" font-weight="bold" text-anchor="middle" transform="rotate(-90 559.8 851)" dominant-baseline="central">Rd</text>
<text x="559.8" y="823" font-size="3" fill="#fff" font-weight="bold" text-anchor="middle" transform="rotate(-90 559.8 823)" dominant-baseline="central">Si</text>
<g transform="translate(358,56) rotate(-42.5)"><path d="M0,-8.5 L3.25,-2.6499999999999995 L1.4,-2.6499999999999995 L1.4,8.5 L-1.4,8.5 L-1.4,-2.6499999999999995 L-3.25,-2.6499999999999995 Z" fill="#fff"/></g>
<g transform="translate(552,17.3) rotate(54)"><path d="M0,-8 L3.25,-2.1499999999999995 L1.4,-2.1499999999999995 L1.4,8 L-1.4,8 L-1.4,-2.1499999999999995 L-3.25,-2.1499999999999995 Z" fill="#fff"/></g>
<g transform="translate(817.3,29.3) rotate(11)"><path d="M0,-6.5 L3,-1.0999999999999996 L1.4,-1.0999999999999996 L1.4,6.5 L-1.4,6.5 L-1.4,-1.0999999999999996 L-3,-1.0999999999999996 Z" fill="#fff"/></g>
<g transform="translate(862.8,130) rotate(7)"><path d="M0,-4 L1.6,-1.1199999999999997 L0.6,-1.1199999999999997 L0.6,4 L-0.6,4 L-0.6,-1.1199999999999997 L-1.6,-1.1199999999999997 Z" fill="#fff"/></g>
<g transform="translate(35,506.5) rotate(-60)"><path d="M0,-8.5 L3.25,-2.6499999999999995 L1.4,-2.6499999999999995 L1.4,8.5 L-1.4,8.5 L-1.4,-2.6499999999999995 L-3.25,-2.6499999999999995 Z" fill="#fff"/></g>
<g transform="translate(32,675) rotate(-135)"><path d="M0,-8.5 L3.25,-2.6499999999999995 L1.4,-2.6499999999999995 L1.4,8.5 L-1.4,8.5 L-1.4,-2.6499999999999995 L-3.25,-2.6499999999999995 Z" fill="#fff"/></g>
<g transform="translate(167.8,987) rotate(180)"><path d="M0,-6 L2.5,-1.5 L1,-1.5 L1,6 L-1,6 L-1,-1.5 L-2.5,-1.5 Z" fill="#fff"/></g>
<g transform="translate(990.5,934.7) rotate(90)"><path d="M0,-7.75 L3,-2.3499999999999996 L1.4,-2.3499999999999996 L1.4,7.75 L-1.4,7.75 L-1.4,-2.3499999999999996 L-3,-2.3499999999999996 Z" fill="#fff"/></g>
<g transform="translate(1588.2,438.2) rotate(90)"><path d="M0,-8 L3,-2.5999999999999996 L1.3,-2.5999999999999996 L1.3,8 L-1.3,8 L-1.3,-2.5999999999999996 L-3,-2.5999999999999996 Z" fill="#fff"/></g></g>
<g id="maplabels"><text x="924" y="315" font-size="9.5" fill="#231f20" font-weight="bold" text-anchor="middle" textLength="80" lengthAdjust="spacingAndGlyphs" >South Cargo Area</text>
<text x="1451" y="493.7" font-size="9.5" fill="#231f20" font-weight="bold" text-anchor="middle" textLength="80" lengthAdjust="spacingAndGlyphs" >North Cargo Area</text>
<text x="505.5" y="411" font-size="8.8" fill="#231f20" font-weight="normal" text-anchor="middle" textLength="87" lengthAdjust="spacingAndGlyphs" >Airport Living District</text>
<text x="552.3" y="621" font-size="10" fill="#231f20" font-weight="normal" text-anchor="start" textLength="21.5" lengthAdjust="spacingAndGlyphs" >West</text>
<text x="579" y="621" font-size="10" fill="#231f20" font-weight="normal" text-anchor="start" textLength="19.5" lengthAdjust="spacingAndGlyphs" >Lake</text>
<text x="587" y="888" font-size="9.5" fill="#231f20" font-weight="normal" text-anchor="start" textLength="17.5" lengthAdjust="spacingAndGlyphs" >East</text>
<text x="620.5" y="888" font-size="9.5" fill="#231f20" font-weight="normal" text-anchor="start" textLength="19" lengthAdjust="spacingAndGlyphs" >Lake</text>
<rect x="1171.3" y="357" width="9.3" height="9.3" rx="0.9300000000000002" fill="url(#pk)" stroke="#3a3a1a" stroke-width="0.5"/><text x="1175.95" y="364.5795" font-size="7.998" font-weight="bold" text-anchor="middle" fill="#111">P</text>
<text x="1182.5" y="364.3" font-size="7.2" fill="#231f20" font-weight="normal" text-anchor="start" textLength="39" lengthAdjust="spacingAndGlyphs" >Taxi Parking</text>
<rect x="1179.7" y="396" width="20.5" height="20.5" rx="2.0500000000000003" fill="url(#pk)" stroke="#3a3a1a" stroke-width="0.7175"/><text x="1189.95" y="412.7075" font-size="17.63" font-weight="bold" text-anchor="middle" fill="#111">P</text>
<text x="1202.5" y="406.7" font-size="7.8" fill="#231f20" font-weight="normal" text-anchor="start" textLength="25" lengthAdjust="spacingAndGlyphs" >Garage</text>
<text x="1202.5" y="415.3" font-size="7.8" fill="#231f20" font-weight="normal" text-anchor="start" textLength="18" lengthAdjust="spacingAndGlyphs" >No. 1</text>
<rect x="1172.8" y="467.5" width="20.3" height="20.3" rx="2.0300000000000002" fill="url(#pk)" stroke="#3a3a1a" stroke-width="0.7105000000000001"/><text x="1182.95" y="484.04449999999997" font-size="17.458000000000002" font-weight="bold" text-anchor="middle" fill="#111">P</text>
<text x="1171.5" y="499.4" font-size="9.8" fill="#231f20" font-weight="normal" text-anchor="start" textLength="54" lengthAdjust="spacingAndGlyphs" >Garage No. 2</text>
<rect x="633" y="676.7" width="21" height="21" rx="2.1" fill="url(#pk)" stroke="#3a3a1a" stroke-width="0.7350000000000001"/><text x="643.5" y="693.815" font-size="18.06" font-weight="bold" text-anchor="middle" fill="#111">P</text>
<text x="616.7" y="709" font-size="9.6" fill="#231f20" font-weight="normal" text-anchor="start" textLength="56" lengthAdjust="spacingAndGlyphs" >Garage No. 3</text>
<rect x="599.6" y="812.7" width="14.8" height="14.8" rx="1.4800000000000002" fill="url(#pk)" stroke="#3a3a1a" stroke-width="0.5180000000000001"/><text x="607" y="824.7620000000001" font-size="12.728" font-weight="bold" text-anchor="middle" fill="#111">P</text>
<text x="616" y="823.3" font-size="9.3" fill="#231f20" font-weight="normal" text-anchor="start" textLength="49.5" lengthAdjust="spacingAndGlyphs" >Bus Parking</text>
<text x="650" y="728" font-size="16" fill="#fff" font-weight="bold" text-anchor="middle" textLength="40" lengthAdjust="spacingAndGlyphs" stroke="#fff" stroke-width="0.8">GTC</text>
<g transform="translate(447.5,300) rotate(0) scale(0.3) translate(-15,-15)"><rect x="0" y="0" width="30" height="30" rx="4" fill="#157f4a"/><path d="M5,8 L5,24 M5,19 L25,19 M25,13 L25,24" stroke="#fff" stroke-width="2.5" fill="none"/><path d="M8,12 h4 v5 h-4 z M13,11.5 L24,11.5 L24,17 L13,17 Z" fill="#fff"/></g>
<text x="441.5" y="300" font-size="3.2" fill="#231f20" font-weight="normal" text-anchor="end" >Eastern Air</text>
<text x="441.5" y="303.6" font-size="3.2" fill="#231f20" font-weight="normal" text-anchor="end" >Jinjiang Hotel</text>
<g transform="translate(514,322.5) rotate(0) scale(0.3) translate(-15,-15)"><rect x="0" y="0" width="30" height="30" rx="4" fill="#157f4a"/><path d="M5,8 L5,24 M5,19 L25,19 M25,13 L25,24" stroke="#fff" stroke-width="2.5" fill="none"/><path d="M8,12 h4 v5 h-4 z M13,11.5 L24,11.5 L24,17 L13,17 Z" fill="#fff"/></g>
<text x="520.5" y="322" font-size="3.2" fill="#231f20" font-weight="normal" text-anchor="start" >Blue Palace</text>
<text x="520.5" y="325.6" font-size="3.2" fill="#231f20" font-weight="normal" text-anchor="start" >Hotel</text>
<g transform="translate(727,336) rotate(0) scale(0.3) translate(-15,-15)"><rect x="0" y="0" width="30" height="30" rx="4" fill="#157f4a"/><path d="M5,8 L5,24 M5,19 L25,19 M25,13 L25,24" stroke="#fff" stroke-width="2.5" fill="none"/><path d="M8,12 h4 v5 h-4 z M13,11.5 L24,11.5 L24,17 L13,17 Z" fill="#fff"/></g>
<text x="698.7" y="329.8" font-size="6.3" fill="#231f20" font-weight="normal" text-anchor="start" textLength="21" lengthAdjust="spacingAndGlyphs" >Airport</text>
<text x="698.7" y="336.8" font-size="6.3" fill="#231f20" font-weight="normal" text-anchor="start" textLength="21" lengthAdjust="spacingAndGlyphs" >Garden</text>
<text x="698.7" y="343.6" font-size="6.3" fill="#231f20" font-weight="normal" text-anchor="start" textLength="15" lengthAdjust="spacingAndGlyphs" >Hotel</text>
<text x="659" y="379.5" font-size="6.3" fill="#231f20" font-weight="normal" text-anchor="start" textLength="21" lengthAdjust="spacingAndGlyphs" >Airport</text>
<text x="659" y="386.8" font-size="6.3" fill="#231f20" font-weight="normal" text-anchor="start" textLength="37" lengthAdjust="spacingAndGlyphs" >Huayi Bridge</text>
<path d="M687.5,386.3 L690.2,391.25 L687.5,389.9 L684.8,391.25 Z" fill="#d7152a"/>
<g transform="translate(523.8,283) rotate(35) scale(0.2833333333333333) translate(-15,-15)"><rect x="0" y="0" width="30" height="29" rx="7" fill="#157f4a"/><path d="M5,10 Q5,8 7,8 L23,8 Q26,8 26,11 L26,19 L5,19 Z" fill="#fff"/><path d="M6,14 L25,14" stroke="#157f4a" stroke-width="1"/><circle cx="9.5" cy="20" r="2.2" fill="#fff"/><circle cx="21.5" cy="20" r="2.2" fill="#fff"/></g>
<text x="527" y="290" font-size="3.6" fill="#231f20" font-weight="normal" text-anchor="start" transform="rotate(48 527 290)" >Bus Stp</text>
<g transform="translate(471,521) rotate(0) scale(0.3) translate(-15,-15)"><rect x="0" y="0" width="30" height="30" rx="4" fill="#157f4a"/><path d="M5,8 L5,24 M5,19 L25,19 M25,13 L25,24" stroke="#fff" stroke-width="2.5" fill="none"/><path d="M8,12 h4 v5 h-4 z M13,11.5 L24,11.5 L24,17 L13,17 Z" fill="#fff"/></g>
<text x="471" y="531" font-size="5" fill="#231f20" font-weight="normal" text-anchor="middle" textLength="29" lengthAdjust="spacingAndGlyphs" >Yinglin Hotel</text>
<g transform="translate(507.5,543) rotate(-35) scale(0.25) translate(-15,-15)"><rect x="0" y="0" width="30" height="29" rx="7" fill="#157f4a"/><path d="M5,10 Q5,8 7,8 L23,8 Q26,8 26,11 L26,19 L5,19 Z" fill="#fff"/><path d="M6,14 L25,14" stroke="#157f4a" stroke-width="1"/><circle cx="9.5" cy="20" r="2.2" fill="#fff"/><circle cx="21.5" cy="20" r="2.2" fill="#fff"/></g>
<text x="513" y="541" font-size="2.6" fill="#231f20" font-weight="normal" text-anchor="start" transform="rotate(-35 513 541)" >Bus Stop</text>
<g transform="translate(637.5,465) rotate(-50) scale(0.25) translate(-15,-15)"><rect x="0" y="0" width="30" height="29" rx="7" fill="#157f4a"/><path d="M5,10 Q5,8 7,8 L23,8 Q26,8 26,11 L26,19 L5,19 Z" fill="#fff"/><path d="M6,14 L25,14" stroke="#157f4a" stroke-width="1"/><circle cx="9.5" cy="20" r="2.2" fill="#fff"/><circle cx="21.5" cy="20" r="2.2" fill="#fff"/></g>
<text x="641" y="461" font-size="2.6" fill="#231f20" font-weight="normal" text-anchor="start" transform="rotate(-50 641 461)" >Bus Stop</text>
<g transform="translate(706.7,423) rotate(22) scale(0.3) translate(-15,-15)"><rect x="0" y="0" width="30" height="29" rx="7" fill="#157f4a"/><path d="M5,10 Q5,8 7,8 L23,8 Q26,8 26,11 L26,19 L5,19 Z" fill="#fff"/><path d="M6,14 L25,14" stroke="#157f4a" stroke-width="1"/><circle cx="9.5" cy="20" r="2.2" fill="#fff"/><circle cx="21.5" cy="20" r="2.2" fill="#fff"/></g>
<text x="713" y="429" font-size="4.2" fill="#231f20" font-weight="normal" text-anchor="start" transform="rotate(22 713 429)" >Bus Ate</text>
<g transform="translate(994.5,395.5) rotate(0) scale(0.3) translate(-15,-15)"><rect x="0" y="0" width="30" height="30" rx="4" fill="#157f4a"/><path d="M5,8 L5,24 M5,19 L25,19 M25,13 L25,24" stroke="#fff" stroke-width="2.5" fill="none"/><path d="M8,12 h4 v5 h-4 z M13,11.5 L24,11.5 L24,17 L13,17 Z" fill="#fff"/></g>
<text x="983" y="404" font-size="2.9" fill="#231f20" font-weight="normal" text-anchor="start" >Cuisine Airport Hotel</text>
<g transform="translate(1000.5,418) scale(0.3) translate(-15,-15)"><rect x="0" y="0" width="30" height="30" rx="5" fill="#157f4a"/><rect x="6" y="8" width="18" height="14" fill="none" stroke="#fff" stroke-width="2"/><path d="M10,12 v7 M15,12 v7 M20,12 v7" stroke="#fff" stroke-width="2"/></g>
<text x="1000.5" y="426" font-size="2.9" fill="#231f20" font-weight="normal" text-anchor="middle" >Tea Office</text>
<g transform="translate(1014.5,435.5) rotate(0) scale(0.3) translate(-15,-15)"><rect x="0" y="0" width="30" height="29" rx="7" fill="#157f4a"/><path d="M5,10 Q5,8 7,8 L23,8 Q26,8 26,11 L26,19 L5,19 Z" fill="#fff"/><path d="M6,14 L25,14" stroke="#157f4a" stroke-width="1"/><circle cx="9.5" cy="20" r="2.2" fill="#fff"/><circle cx="21.5" cy="20" r="2.2" fill="#fff"/></g>
<text x="1020.5" y="434" font-size="3.6" fill="#231f20" font-weight="normal" text-anchor="start" >Bus 15th</text>
<text x="1020.5" y="438.3" font-size="3.6" fill="#231f20" font-weight="normal" text-anchor="start" >Station</text>
<g transform="translate(1023,466) rotate(0) scale(0.3) translate(-15,-15)"><rect x="0" y="0" width="30" height="30" rx="4" fill="#157f4a"/><path d="M5,8 L5,24 M5,19 L25,19 M25,13 L25,24" stroke="#fff" stroke-width="2.5" fill="none"/><path d="M8,12 h4 v5 h-4 z M13,11.5 L24,11.5 L24,17 L13,17 Z" fill="#fff"/></g>
<text x="1023" y="474.5" font-size="2.9" fill="#231f20" font-weight="normal" text-anchor="middle" >Thiary Restaurant</text>
<g transform="translate(527,680) rotate(0) scale(0.3) translate(-15,-15)"><rect x="0" y="0" width="30" height="30" rx="4" fill="#157f4a"/><path d="M5,8 L5,24 M5,19 L25,19 M25,13 L25,24" stroke="#fff" stroke-width="2.5" fill="none"/><path d="M8,12 h4 v5 h-4 z M13,11.5 L24,11.5 L24,17 L13,17 Z" fill="#fff"/></g>
<text x="513.7" y="664.5" font-size="7.3" fill="#231f20" font-weight="normal" text-anchor="start" textLength="53" lengthAdjust="spacingAndGlyphs" >Langham Place</text>
<text x="513.7" y="673.2" font-size="7.3" fill="#231f20" font-weight="normal" text-anchor="start" textLength="19" lengthAdjust="spacingAndGlyphs" >Hotel</text>
<g transform="translate(528.4,765.5) rotate(0) scale(0.3) translate(-15,-15)"><rect x="0" y="0" width="30" height="30" rx="4" fill="#157f4a"/><path d="M5,8 L5,24 M5,19 L25,19 M25,13 L25,24" stroke="#fff" stroke-width="2.5" fill="none"/><path d="M8,12 h4 v5 h-4 z M13,11.5 L24,11.5 L24,17 L13,17 Z" fill="#fff"/></g>
<text x="510.6" y="778.5" font-size="7.3" fill="#231f20" font-weight="normal" text-anchor="start" textLength="43" lengthAdjust="spacingAndGlyphs" >Hilton Hotel</text>
<g transform="translate(419,831.5) rotate(0) scale(0.2833333333333333) translate(-15,-15)"><rect x="0" y="0" width="30" height="30" rx="4" fill="#157f4a"/><path d="M5,8 L5,24 M5,19 L25,19 M25,13 L25,24" stroke="#fff" stroke-width="2.5" fill="none"/><path d="M8,12 h4 v5 h-4 z M13,11.5 L24,11.5 L24,17 L13,17 Z" fill="#fff"/></g>
<text x="396.5" y="829.5" font-size="2.8" fill="#231f20" font-weight="normal" text-anchor="start" >Seaport</text>
<text x="396.5" y="833" font-size="2.8" fill="#231f20" font-weight="normal" text-anchor="start" >Hotel</text>
<path d="M417,817.5 h4 v4 h-4 z M415.5,822.5 h7 v1.3 h-7 z" fill="#e8192c"/>
<g transform="translate(418.5,702) scale(0.3) translate(-15,-15)"><rect x="0" y="0" width="30" height="30" rx="4" fill="#157f4a"/><path d="M9.5,4.5 Q9.5,3.5 10.5,3.5 L17.5,3.5 Q18.5,3.5 18.5,4.5 L18.5,23 L9.5,23 Z M7,23 L21,23 L21,25.5 L7,25.5 Z" fill="#fff"/><rect x="11.3" y="6" width="5.4" height="4.6" fill="#157f4a"/><path d="M18.5,9 L21.3,11.5 L21.3,20" stroke="#fff" stroke-width="1.4" fill="none"/></g>
<path d="M1061.7,363.8 L1064.1000000000001,368.2 L1061.7,367 L1059.3,368.2 Z" fill="#d7152a"/>
<path d="M1061.7,388.6 L1064.1000000000001,393 L1061.7,391.8 L1059.3,393 Z" fill="#d7152a"/>
<path d="M1124,389.3 L1126.4,393.7 L1124,392.5 L1121.6,393.7 Z" fill="#d7152a"/>
<text x="1032" y="362" font-size="3.6" fill="#231f20" font-weight="normal" text-anchor="start" transform="rotate(-12 1032 362)" >Yinghe North</text>
<text x="1034" y="366.5" font-size="3.6" fill="#231f20" font-weight="normal" text-anchor="start" transform="rotate(-12 1034 366.5)" >Bridge</text>
<text x="1116" y="383.5" font-size="3.6" fill="#231f20" font-weight="normal" text-anchor="start" transform="rotate(-5 1116 383.5)" >Hangkong</text>
<text x="1118" y="388" font-size="3.4" fill="#231f20" font-weight="normal" text-anchor="start" transform="rotate(-5 1118 388)" >Bridge</text>
<text x="1035" y="392" font-size="2.6" fill="#231f20" font-weight="normal" text-anchor="start" transform="rotate(10 1035 392)" >Yinghe South</text>
<text x="1040" y="397" font-size="2.6" fill="#231f20" font-weight="normal" text-anchor="start" transform="rotate(10 1040 397)" >Bridge</text>
<rect x="781" y="404" width="3" height="4" fill="#6ab04c"/><path d="M779,409 h7" stroke="#333" stroke-width="0.8"/>
<rect x="796" y="419" width="3" height="4" fill="#2a7fc9"/><path d="M794,424 h7" stroke="#333" stroke-width="0.8"/>
<rect x="813.5" y="419" width="3" height="4" fill="#3d9b6a"/><path d="M811.5,424 h7" stroke="#333" stroke-width="0.8"/>
<rect x="1179.5" y="330" width="3" height="4" fill="#4aa84a"/><path d="M1177.5,335 h7" stroke="#333" stroke-width="0.8"/></g>
<g id="signs"><rect x="366.8" y="54.5" width="76" height="3.8" rx="1.9" fill="#333" opacity="0.7"/>
<rect x="365.8" y="22" width="78" height="35" rx="6" fill="url(#sgG)" stroke="#2e8f3a" stroke-width="1"/>
<rect x="367.3" y="23.3" width="75" height="15.12" rx="4" fill="#fff" opacity="0.12"/>
<path d="M371.3,24.1 L438.3,24.1" stroke="#fff" stroke-width="0.8" opacity="0.55"/>
<text x="404.8" y="33.7" font-size="7" fill="#fff" font-weight="bold" text-anchor="middle" >To</text>
<text x="404.8" y="42.5" font-size="7" fill="#fff" font-weight="bold" text-anchor="middle" textLength="57" lengthAdjust="spacingAndGlyphs" >Wuyuan Bridge</text>
<text x="404.8" y="51.3" font-size="7" fill="#fff" font-weight="bold" text-anchor="middle" textLength="26" lengthAdjust="spacingAndGlyphs" >(Beijing)</text>
<rect x="562.2" y="53.2" width="80.3" height="3.8" rx="1.9" fill="#333" opacity="0.7"/>
<rect x="561.2" y="23.5" width="82.3" height="32.2" rx="6" fill="url(#sgG)" stroke="#2e8f3a" stroke-width="1"/>
<rect x="562.7" y="24.8" width="79.3" height="13.944" rx="4" fill="#fff" opacity="0.12"/>
<path d="M566.7,25.6 L638,25.6" stroke="#fff" stroke-width="0.8" opacity="0.55"/>
<text x="602.35" y="32.7" font-size="7" fill="#fff" font-weight="bold" text-anchor="middle" >To</text>
<text x="602.35" y="41.6" font-size="7" fill="#fff" font-weight="bold" text-anchor="middle" textLength="55" lengthAdjust="spacingAndGlyphs" >Jingcheng Expy</text>
<text x="602.35" y="50.5" font-size="7" fill="#fff" font-weight="bold" text-anchor="middle" textLength="61" lengthAdjust="spacingAndGlyphs" >Jingmi Highway</text>
<rect x="826.5" y="45.8" width="89.5" height="3.8" rx="1.9" fill="#333" opacity="0.7"/>
<rect x="825.5" y="21.3" width="91.5" height="27" rx="6" fill="url(#sgB)" stroke="#2f74c4" stroke-width="1"/>
<rect x="827" y="22.6" width="88.5" height="11.76" rx="4" fill="#fff" opacity="0.12"/>
<path d="M831,23.400000000000002 L911.5,23.400000000000002" stroke="#fff" stroke-width="0.8" opacity="0.55"/>
<text x="871.25" y="32.3" font-size="7" fill="#fff" font-weight="bold" text-anchor="middle" >To</text>
<text x="871.25" y="43.2" font-size="7" fill="#fff" font-weight="bold" text-anchor="middle" textLength="57" lengthAdjust="spacingAndGlyphs" >Jingmi Highway</text>
<rect x="515.6" y="229" width="56" height="3.8" rx="1.9" fill="#333" opacity="0.7"/>
<rect x="514.6" y="199.4" width="58" height="32.1" rx="6" fill="url(#sgP)" stroke="#a5306e" stroke-width="1"/>
<rect x="516.1" y="200.70000000000002" width="55" height="13.902" rx="4" fill="#fff" opacity="0.12"/>
<path d="M520.1,201.5 L567.1,201.5" stroke="#fff" stroke-width="0.8" opacity="0.55"/>
<text x="543.6" y="218.7" font-size="9.7" fill="#fff" font-weight="bold" text-anchor="middle" textLength="50.4" lengthAdjust="spacingAndGlyphs" >Toll station</text>
<rect x="279.7" y="628.3" width="56" height="3.8" rx="1.9" fill="#333" opacity="0.7"/>
<rect x="278.7" y="598.8" width="58" height="32" rx="6" fill="url(#sgP)" stroke="#a5306e" stroke-width="1"/>
<rect x="280.2" y="600.0999999999999" width="55" height="13.86" rx="4" fill="#fff" opacity="0.12"/>
<path d="M284.2,600.9 L331.2,600.9" stroke="#fff" stroke-width="0.8" opacity="0.55"/>
<text x="307.7" y="618.1" font-size="9.7" fill="#fff" font-weight="bold" text-anchor="middle" textLength="50.4" lengthAdjust="spacingAndGlyphs" >Toll station</text>
<rect x="26.5" y="544.5" width="51" height="3.8" rx="1.9" fill="#333" opacity="0.7"/>
<rect x="25.5" y="517.5" width="53" height="29.5" rx="6" fill="url(#sgG)" stroke="#2e8f3a" stroke-width="1"/>
<rect x="27" y="518.8" width="50" height="12.809999999999999" rx="4" fill="#fff" opacity="0.12"/>
<path d="M31,519.6 L73,519.6" stroke="#fff" stroke-width="0.8" opacity="0.55"/>
<text x="52" y="526.5" font-size="7" fill="#fff" font-weight="bold" text-anchor="middle" >To</text>
<text x="52" y="534.8" font-size="7" fill="#fff" font-weight="bold" text-anchor="middle" textLength="42" lengthAdjust="spacingAndGlyphs" >6<tspan font-size="4.3" dy="-2.3">th</tspan><tspan dy="2.3"> Ring Rd</tspan></text>
<text x="52" y="543.1" font-size="6.5" fill="#fff" font-weight="bold" text-anchor="middle" textLength="27" lengthAdjust="spacingAndGlyphs" >(Beijing)</text>
<rect x="40.5" y="711.3" width="59" height="3.8" rx="1.9" fill="#333" opacity="0.7"/>
<rect x="39.5" y="674.5" width="61" height="39.3" rx="6" fill="url(#sgG)" stroke="#2e8f3a" stroke-width="1"/>
<rect x="41" y="675.8" width="58" height="16.926" rx="4" fill="#fff" opacity="0.12"/>
<path d="M45,676.6 L95,676.6" stroke="#fff" stroke-width="0.8" opacity="0.55"/>
<text x="70" y="685" font-size="7" fill="#fff" font-weight="bold" text-anchor="middle" >To</text>
<text x="70" y="693.2" font-size="7" fill="#fff" font-weight="bold" text-anchor="middle" textLength="48" lengthAdjust="spacingAndGlyphs" >E 6<tspan font-size="4.3" dy="-2.3">th</tspan><tspan dy="2.3"> Ring Rd</tspan></text>
<text x="70" y="701.4" font-size="7" fill="#fff" font-weight="bold" text-anchor="middle" textLength="53" lengthAdjust="spacingAndGlyphs" >Jingping Expy</text>
<text x="70" y="709.6" font-size="6" fill="#fff" font-weight="bold" text-anchor="middle" textLength="30" lengthAdjust="spacingAndGlyphs" >( Pinggu )</text>
<rect x="74.8" y="988.6999999999999" width="82" height="3.8" rx="1.9" fill="#333" opacity="0.7"/>
<rect x="73.8" y="959.8" width="84" height="31.4" rx="6" fill="url(#sgB)" stroke="#2f74c4" stroke-width="1"/>
<rect x="75.3" y="961.0999999999999" width="81" height="13.607999999999999" rx="4" fill="#fff" opacity="0.12"/>
<path d="M79.3,961.9 L152.3,961.9" stroke="#fff" stroke-width="0.8" opacity="0.55"/>
<text x="115.8" y="970" font-size="7" fill="#fff" font-weight="bold" text-anchor="middle" >To</text>
<text x="115.8" y="978" font-size="7" fill="#fff" font-weight="bold" text-anchor="middle" textLength="72" lengthAdjust="spacingAndGlyphs" >Tongshun Highway</text>
<text x="115.8" y="986" font-size="6.2" fill="#fff" font-weight="bold" text-anchor="middle" textLength="37" lengthAdjust="spacingAndGlyphs" >(Tongzhou)</text>
<rect x="967.3" y="975.7" width="59.5" height="3.8" rx="1.9" fill="#333" opacity="0.7"/>
<rect x="966.3" y="943.6" width="61.5" height="34.6" rx="6" fill="url(#sgB2)" stroke="#3f86d2" stroke-width="1"/>
<rect x="967.8" y="944.9" width="58.5" height="14.952" rx="4" fill="#fff" opacity="0.12"/>
<path d="M971.8,945.7 L1022.3,945.7" stroke="#fff" stroke-width="0.8" opacity="0.55"/>
<text x="997.05" y="952.4" font-size="6.2" fill="#fff" font-weight="normal" text-anchor="middle" >TO</text>
<text x="997.05" y="962.1" font-size="6.2" fill="#fff" font-weight="bold" text-anchor="middle" textLength="53" lengthAdjust="spacingAndGlyphs" >Sunping Highway</text>
<text x="997.05" y="971.8" font-size="6.2" fill="#fff" font-weight="bold" text-anchor="middle" textLength="49.5" lengthAdjust="spacingAndGlyphs" >(Shunyi. Pinggu)</text>
<rect x="1517.2" y="423.6" width="87.6" height="3.8" rx="1.9" fill="#333" opacity="0.7"/>
<rect x="1516.2" y="388.3" width="89.6" height="37.8" rx="8" fill="url(#sgB)" stroke="#2f74c4" stroke-width="1"/>
<rect x="1517.7" y="389.6" width="86.6" height="16.296" rx="6" fill="#fff" opacity="0.12"/>
<path d="M1523.7,390.40000000000003 L1598.3,390.40000000000003" stroke="#fff" stroke-width="0.8" opacity="0.55"/>
<text x="1561" y="403.5" font-size="7" fill="#fff" font-weight="bold" text-anchor="middle" >To</text>
<text x="1561" y="412.5" font-size="7" fill="#fff" font-weight="bold" text-anchor="middle" textLength="69.5" lengthAdjust="spacingAndGlyphs" >Airport North Line</text>
<text x="1561" y="421.5" font-size="6.2" fill="#fff" font-weight="bold" text-anchor="middle" textLength="31" lengthAdjust="spacingAndGlyphs" >( Shunyi )</text></g>
<g id="tlabels"><rect x="1289.4" y="396" width="98.8" height="24.6" rx="3.5" fill="#aa0000"/><text x="1338.8000000000002" y="414" font-size="14" fill="#fff" font-weight="normal" text-anchor="middle" textLength="58.5" lengthAdjust="spacingAndGlyphs" >Terminal 1</text>
<rect x="1146" y="581.2" width="99.2" height="24.8" rx="3.5" fill="#aa0000"/><text x="1195.6" y="599.8" font-size="14" fill="#fff" font-weight="normal" text-anchor="middle" textLength="58.5" lengthAdjust="spacingAndGlyphs" >Terminal 2</text>
<rect x="869.8" y="773.1" width="99.1" height="24.7" rx="3.5" fill="#aa0000"/><text x="919.3499999999999" y="789.7" font-size="14" fill="#fff" font-weight="normal" text-anchor="middle" textLength="58.5" lengthAdjust="spacingAndGlyphs" >Terminal 3</text></g>
<g id="legend"><text x="1021.5" y="75" font-size="37" fill="#231815" font-weight="bold" text-anchor="start" textLength="546" lengthAdjust="spacingAndGlyphs" >Capital Airport Area Road Map</text>
<path d="M52,142.5 L92.5,142.5" stroke="#4ea248" stroke-width="4.5"/>
<path d="M52,155.1 L92.5,155.1" stroke="#0f76c1" stroke-width="4.4"/>
<text x="100" y="145.2" font-size="9.5" fill="#231f20" font-weight="normal" text-anchor="start" textLength="97.5" lengthAdjust="spacingAndGlyphs" >Expressway (Toll Road)</text>
<text x="100" y="158.8" font-size="9.5" fill="#231f20" font-weight="normal" text-anchor="start" textLength="36.5" lengthAdjust="spacingAndGlyphs" >Highway</text>
<circle cx="87.5" cy="87.8" r="31.8" fill="url(#cmp)" stroke="#2c2623" stroke-width="7.3"/>
<path d="M60.5,104 A31.5,31.5 0 0 0 84,119" fill="none" stroke="#ddd" stroke-width="0.9" opacity="0.8"/>
<circle cx="87.5" cy="87.8" r="28.4" fill="none" stroke="#777" stroke-width="0.7"/>
<path d="M60.4,87.2 L86.6,79 L86.6,95.2 Z" fill="#0a6fc2"/><path d="M112.8,87.2 L86.6,79 L86.6,95.2 Z" fill="#ee1c25"/>
<circle cx="86.6" cy="87.2" r="2.2" fill="#f4f4f4" stroke="#bbb" stroke-width="0.4"/>
<text x="85.8" y="58.3" font-size="6.5" fill="#eee" font-weight="bold" text-anchor="middle" >W</text>
<text x="119.3" y="90" font-size="8" fill="#f5e100" font-weight="bold" text-anchor="middle" >N</text>
<text x="54.5" y="89.3" font-size="6" fill="#bbb" font-weight="bold" text-anchor="middle" >S</text>
<text x="85.8" y="122" font-size="6" fill="#bbb" font-weight="bold" text-anchor="middle" >E</text>
<g transform="translate(1127.3,922.5) scale(1) translate(-15,-15)"><rect x="0" y="0" width="30" height="30" rx="4" fill="#157f4a"/><rect x="6" y="9" width="18" height="12.5" fill="none" stroke="#fff" stroke-width="1.6"/><path d="M6,9 L15,16 L24,9 M6,21.5 L12.5,14 M24,21.5 L17.5,14" stroke="#fff" stroke-width="1.4" fill="none"/></g>
<text x="1147.7" y="926.7" font-size="10.5" fill="#231f20" font-weight="normal" text-anchor="start" textLength="52" lengthAdjust="spacingAndGlyphs" >Post Offcie</text>
<g transform="translate(1222,922.5) scale(1) translate(-15,-15)"><rect x="0" y="0" width="30" height="30" rx="4" fill="#157f4a"/><path d="M9.5,4.5 Q9.5,3.5 10.5,3.5 L17.5,3.5 Q18.5,3.5 18.5,4.5 L18.5,23 L9.5,23 Z M7,23 L21,23 L21,25.5 L7,25.5 Z" fill="#fff"/><rect x="11.3" y="6" width="5.4" height="4.6" fill="#157f4a"/><path d="M18.5,9 L21.3,11.5 L21.3,20" stroke="#fff" stroke-width="1.4" fill="none"/></g>
<text x="1241.5" y="925.7" font-size="10.5" fill="#231f20" font-weight="normal" text-anchor="start" textLength="54" lengthAdjust="spacingAndGlyphs" >Gas Station</text>
<g transform="translate(1317.7,922.5) rotate(0) scale(1) translate(-15,-15)"><rect x="0" y="0" width="30" height="30" rx="4" fill="#157f4a"/><path d="M5,8 L5,24 M5,19 L25,19 M25,13 L25,24" stroke="#fff" stroke-width="2.5" fill="none"/><path d="M8,12 h4 v5 h-4 z M13,11.5 L24,11.5 L24,17 L13,17 Z" fill="#fff"/></g>
<text x="1336" y="925.7" font-size="10.5" fill="#231f20" font-weight="normal" text-anchor="start" textLength="81.5" lengthAdjust="spacingAndGlyphs" >Hotel/Restaurant</text>
<g transform="translate(1451.7,922.8) rotate(0) scale(1) translate(-15,-15)"><rect x="0" y="0" width="30" height="29" rx="7" fill="#157f4a"/><path d="M5,10 Q5,8 7,8 L23,8 Q26,8 26,11 L26,19 L5,19 Z" fill="#fff"/><path d="M6,14 L25,14" stroke="#157f4a" stroke-width="1"/><circle cx="9.5" cy="20" r="2.2" fill="#fff"/><circle cx="21.5" cy="20" r="2.2" fill="#fff"/></g>
<text x="1470" y="926.7" font-size="10.5" fill="#231f20" font-weight="normal" text-anchor="start" textLength="53.5" lengthAdjust="spacingAndGlyphs" >Bus Station</text>
<rect x="1113" y="958" width="29" height="29" rx="2.9000000000000004" fill="url(#pk)" stroke="#3a3a1a" stroke-width="1.0150000000000001"/><text x="1127.5" y="981.635" font-size="24.94" font-weight="bold" text-anchor="middle" fill="#111">P</text>
<text x="1145" y="975.7" font-size="10.5" fill="#231f20" font-weight="normal" text-anchor="start" textLength="35.5" lengthAdjust="spacingAndGlyphs" >Parking</text>
<path d="M1219.5,965 L1227.7,979.5 L1219.5,975.5 L1211.7,979.5 Z" fill="#d7152a"/>
<text x="1230.7" y="975.7" font-size="10.5" fill="#231f20" font-weight="normal" text-anchor="start" textLength="31" lengthAdjust="spacingAndGlyphs" >Bridge</text>
<rect x="1303.3" y="959.3" width="27.4" height="25" fill="#ced4ab"/>
<text x="1335" y="975.3" font-size="10.5" fill="#231f20" font-weight="normal" text-anchor="start" textLength="65" lengthAdjust="spacingAndGlyphs" >Living District</text>
<rect x="1437.3" y="959.3" width="27" height="25" fill="#b5b5b5"/>
<text x="1467.7" y="975.3" font-size="10.5" fill="#231f20" font-weight="normal" text-anchor="start" textLength="53.5" lengthAdjust="spacingAndGlyphs" >Cargo Area</text>
<rect x="1530" y="959.3" width="27.3" height="25" fill="#fdf0e6" stroke="#e8e4e0" stroke-width="0.6"/>
<text x="1561" y="975.3" font-size="10.5" fill="#231f20" font-weight="normal" text-anchor="start" textLength="29.5" lengthAdjust="spacingAndGlyphs" >Apron</text></g>
</svg></body></html>
